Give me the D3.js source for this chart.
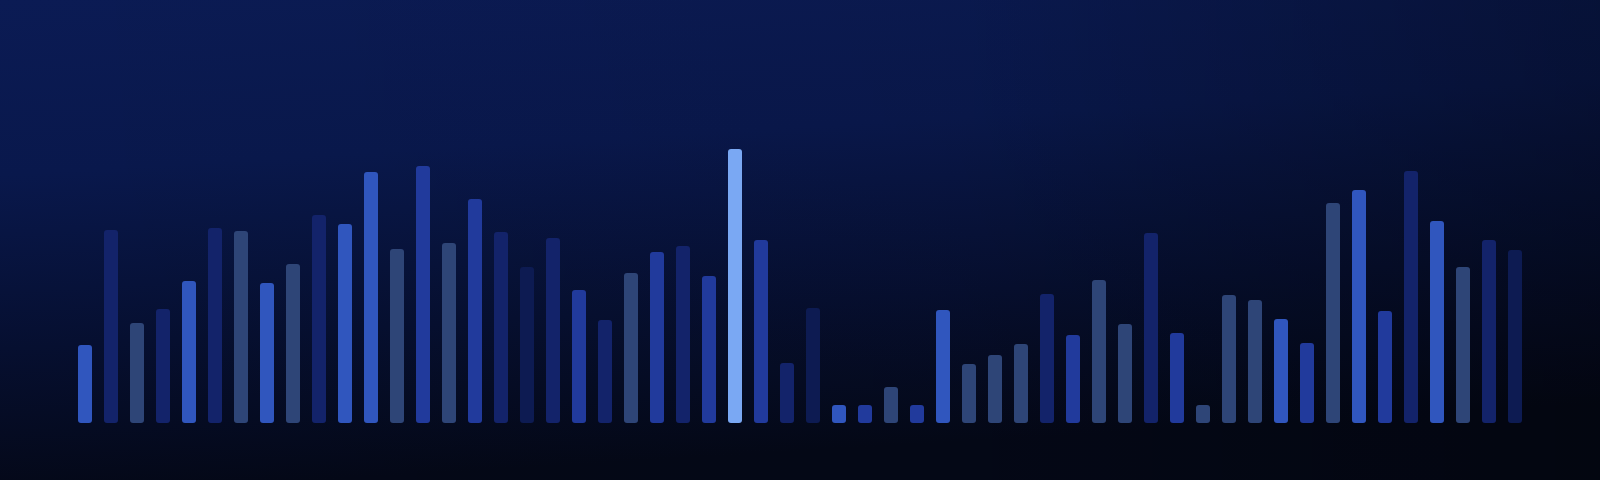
<!DOCTYPE html>
<html>
<head>
<meta charset="utf-8">
<script src="https://cdn.jsdelivr.net/npm/d3@7"></script>
<style>
  html, body { margin: 0; padding: 0; background: #060c24; }
  svg { display: block; }
</style>
</head>
<body>
<svg id="chart" width="1600" height="480"></svg>
<script>
const categories = d3.range(1, 57).map(i => "B" + String(i).padStart(2, "0"));
const values = [
  78, 193, 100, 114, 142, 195, 192, 140, 159, 208,
  199, 251, 174, 257, 180, 224, 191, 156, 185, 133,
  103, 150, 171, 177, 147, 274, 183, 60, 115, 18,
  18, 36, 18, 113, 59, 68, 79, 129, 88, 143,
  99, 190, 90, 18, 128, 123, 104, 80, 220, 233,
  112, 252, 202, 156, 183, 173
];
const tones = [
  "bright","dark","slate","dark","bright","dark","slate","bright","slate","dark",
  "bright","bright","slate","medium","slate","medium","dark","deep","dark","medium",
  "dark","slate","medium","dark","medium","light","medium","dark","deep","bright",
  "medium","slate","medium","bright","slate","slate","slate","dark","medium","slate",
  "slate","dark","medium","slate","slate","slate","bright","medium","slate","bright",
  "medium","dark","bright","slate","dark","deep"
];
const toneColors = {
  light: "#7aa8f3",
  bright: "#3056be",
  medium: "#213a9c",
  dark: "#13236a",
  slate: "#2e4577",
  deep: "#0d1b52"
};

const W = 1600, H = 480;
const svg = d3.select("#chart");
const defs = svg.append("defs");

const bg = defs.append("linearGradient").attr("id", "bg")
  .attr("x1", "0").attr("y1", "0").attr("x2", "0.2").attr("y2", "1");
bg.append("stop").attr("offset", "0").attr("stop-color", "#0b1b54");
bg.append("stop").attr("offset", "0.35").attr("stop-color", "#09184c");
bg.append("stop").attr("offset", "0.7").attr("stop-color", "#060f30");
bg.append("stop").attr("offset", "1").attr("stop-color", "#040817");

const shade = defs.append("linearGradient").attr("id", "shade")
  .attr("x1", "0").attr("y1", "0").attr("x2", "1").attr("y2", "0");
shade.append("stop").attr("offset", "0").attr("stop-color", "#000").attr("stop-opacity", 0);
shade.append("stop").attr("offset", "0.6").attr("stop-color", "#000").attr("stop-opacity", 0.05);
shade.append("stop").attr("offset", "1").attr("stop-color", "#000").attr("stop-opacity", 0.3);

const glow = defs.append("radialGradient").attr("id", "glow")
  .attr("cx", "0.21").attr("cy", "0").attr("r", "0.5")
  .attr("gradientTransform", "translate(0.21,0) scale(1,0.9) translate(-0.21,0)");
glow.append("stop").attr("offset", "0").attr("stop-color", "#10246a").attr("stop-opacity", 0.55);
glow.append("stop").attr("offset", "1").attr("stop-color", "#10246a").attr("stop-opacity", 0);

svg.append("rect").attr("width", W).attr("height", H).attr("fill", "url(#bg)");
svg.append("rect").attr("width", W).attr("height", H).attr("fill", "url(#shade)");
svg.append("ellipse").attr("cx", 330).attr("cy", 0).attr("rx", 330).attr("ry", 75)
  .attr("fill", "url(#glow)");

const x = d3.scaleBand()
  .domain(categories)
  .range([72, 1528])
  .paddingInner(12 / 26)
  .paddingOuter(6 / 26);

const y = d3.scaleLinear()
  .domain([0, d3.max(values)])
  .range([423, 149]);

const data = categories.map((c, i) => ({ c, v: values[i], t: tones[i] }));

svg.append("g").selectAll("rect")
  .data(data)
  .join("rect")
  .attr("x", d => x(d.c))
  .attr("y", d => y(d.v))
  .attr("width", x.bandwidth())
  .attr("height", d => y(0) - y(d.v))
  .attr("rx", 3)
  .attr("ry", 3)
  .attr("fill", d => toneColors[d.t]);
</script>
</body>
</html>
